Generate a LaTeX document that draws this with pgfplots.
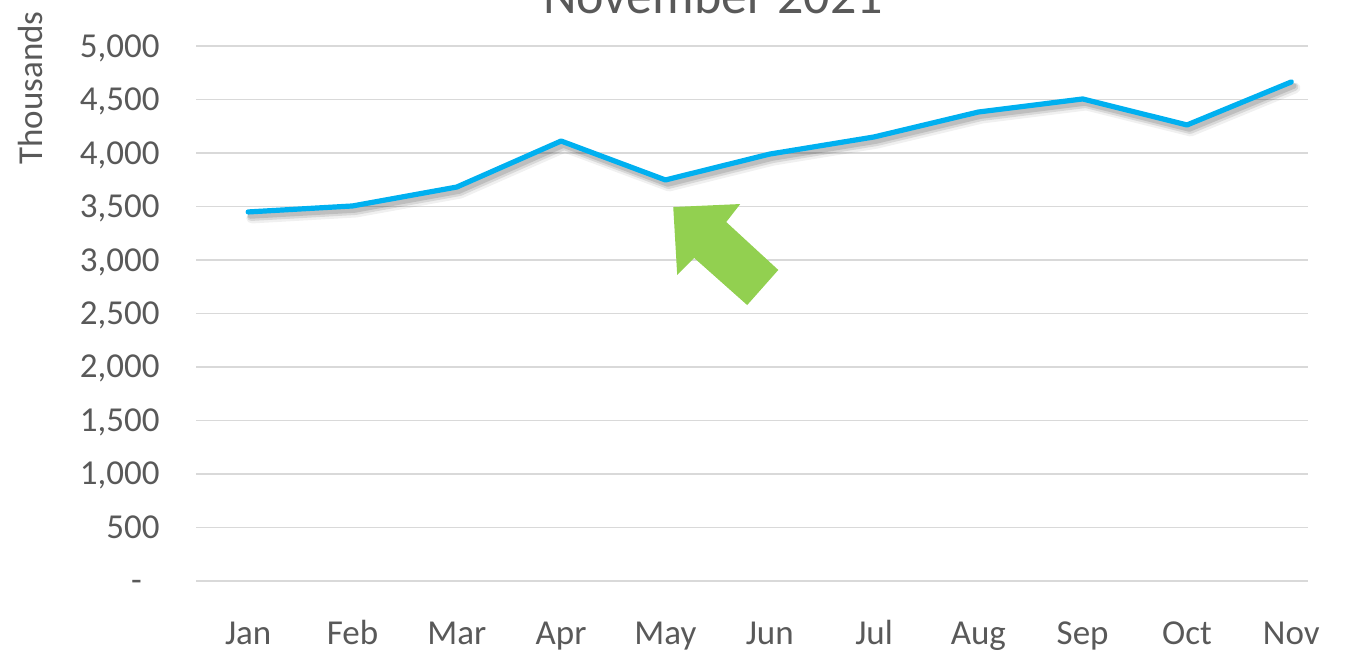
\documentclass[border=0pt]{standalone}
\usepackage{fontspec}
\setmainfont{Carlito}
\usepackage{pgfplots}
\pgfplotsset{compat=1.18}
\definecolor{txt}{HTML}{595959}
\definecolor{gridc}{HTML}{D9D9D9}
\definecolor{ln}{HTML}{00B0F0}
\definecolor{arr}{HTML}{92D050}
\pgfplotstableread{
x y
0 3449
1 3505
2 3682
3 4112
4 3748
5 3990
6 4150
7 4383
8 4505
9 4262
10 4664
}\datatable
\begin{document}
\begin{tikzpicture}
\useasboundingbox (0,0) rectangle (674pt,326pt);
\begin{axis}[
  at={(98pt,35.5pt)}, anchor=south west,
  scale only axis, width=556pt, height=267.5pt,
  xmin=-0.5, xmax=10.16, ymin=0, ymax=5000,
  axis line style={draw=none}, tick style={draw=none},
  ymajorgrids, grid style={gridc, line width=0.75pt},
  xtick={0,...,10},
  xticklabels={Jan,Feb,Mar,Apr,May,Jun,Jul,Aug,Sep,Oct,Nov},
  ytick={0,500,...,5000},
  yticklabels={{-\hphantom{0}},500,{1,000},{1,500},{2,000},{2,500},{3,000},{3,500},{4,000},{4,500},{5,000}},
  ticklabel style={font=\fontsize{17.5}{20}\selectfont, text=txt},
  xticklabel style={anchor=base, yshift=-32pt},
  yticklabel style={anchor=east, xshift=-14.7pt, text height=11pt, text depth=0pt},
  clip=false,
]
\fill[arr] (axis cs:4.075,3495) -- (axis cs:4.717,3523) -- (axis cs:4.583,3355) -- (axis cs:5.082,2907) -- (axis cs:4.784,2579) -- (axis cs:4.276,3019) -- (axis cs:4.113,2860) -- cycle;
\addplot[black, opacity=0.06, line width=5.5pt, line join=round, line cap=round, xshift=1.8pt, yshift=-3pt, forget plot] table[x=x,y=y]{\datatable};
\addplot[black, opacity=0.10, line width=4pt, line join=round, line cap=round, xshift=1.5pt, yshift=-2.5pt, forget plot] table[x=x,y=y]{\datatable};
\addplot[black, opacity=0.12, line width=2.8pt, line join=round, line cap=round, xshift=1.2pt, yshift=-2pt, forget plot] table[x=x,y=y]{\datatable};
\addplot[ln, line width=2.6pt, line join=round, line cap=round] table[x=x,y=y]{\datatable};
\end{axis}
\node[rotate=90, anchor=base, font=\fontsize{17.5}{20}\selectfont, text=txt] at (21pt,282pt) {Thousands};
\node[anchor=base, font=\fontsize{26}{30}\selectfont, text=txt] at (356.5pt,319pt) {November 2021};
\end{tikzpicture}
\end{document}
